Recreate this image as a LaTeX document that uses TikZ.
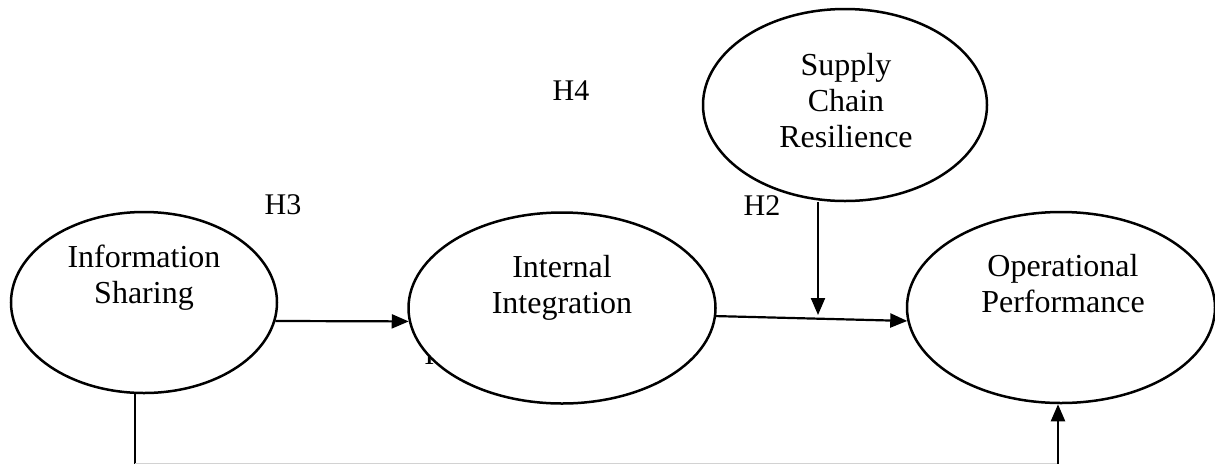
\documentclass[tikz,border=0pt]{standalone}
\usepackage{fontspec}
\setmainfont{Liberation Serif}
\usetikzlibrary{arrows.meta,positioning,shapes.geometric,calc}

\begin{document}
\begin{tikzpicture}[
  x=1pt,y=-1pt,
  construct/.style={ellipse,draw=black,line width=2.5pt,fill=white,inner sep=0pt},
  ctext/.style={align=center,inner sep=0pt,font=\fontsize{32}{36}\selectfont},
  hyp/.style={inner sep=0pt,font=\fontsize{30}{36}\selectfont},
  line/.style={-{Triangle[length=17pt,width=14pt]},line width=2.2pt}
]
  \useasboundingbox (0,0) rectangle (1215,464);

  % label sitting under the ellipse
  \node[hyp] (h1) at (443,355) {H1};

  \node[construct,minimum width=266pt,minimum height=181pt] (is) at (144,302.5) {};
  \node[construct,minimum width=307pt,minimum height=191pt] (ii) at (562,308) {};
  \node[construct,minimum width=308pt,minimum height=191pt] (op) at (1061,307.5) {};
  \node[construct,minimum width=284pt,minimum height=192pt] (sc) at (845,105) {};

  \node[ctext] (isT) at (144,278) {Information\\Sharing};
  \node[ctext] (iiT) at (562,288) {Internal\\Integration};
  \node[ctext] (opT) at (1063,284) {Operational\\Performance};
  \node[ctext] (scT) at (846,101) {Supply\\Chain\\Resilience};

  \node[hyp] (h2) at (762,206) {H2};
  \node[hyp] (h3) at (283,205) {H3};
  \node[hyp] (h4) at (571,91) {H4};

  \coordinate (mid) at (818,315);
  \coordinate (bl) at (135,463.5);
  \coordinate (br) at (1058,463.5);

  \draw[line] (is.-8.5) -- (ii.185.3);
  \draw[line] (ii.-3.7) -- (op.185.8);
  \draw[line] (mid |- sc.south) -- (mid);
  \draw[line width=1.3pt] (bl |- is.south) -- (bl);
  \draw[gray!35,line width=1pt] (bl) -- (br);
  \draw[line] (br) -- (br |- op.south);
\end{tikzpicture}
\end{document}
